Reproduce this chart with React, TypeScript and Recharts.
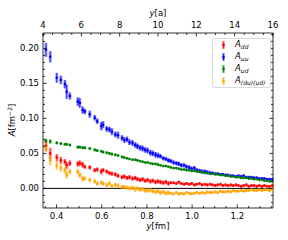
import React from 'react';
import { ScatterChart, Scatter, XAxis, YAxis, ErrorBar, ReferenceLine } from 'recharts';

// separations y in fm
const yFm = [
  0.353, 0.372, 0.401, 0.419, 0.437, 0.445, 0.459, 0.494, 0.503, 0.515,
  0.525, 0.547, 0.569, 0.58, 0.598, 0.606, 0.622, 0.634, 0.645, 0.66,
  0.672, 0.69, 0.7, 0.712, 0.723, 0.736, 0.748, 0.758, 0.77, 0.781,
  0.792, 0.803, 0.815, 0.826, 0.838, 0.849, 0.86, 0.872, 0.884, 0.895,
  0.906, 0.918, 0.93, 0.941, 0.952, 0.964, 0.975, 0.987, 0.998, 1.01,
  1.021, 1.033, 1.044, 1.056, 1.067, 1.079, 1.09, 1.102, 1.113, 1.125,
  1.136, 1.148, 1.159, 1.171, 1.182, 1.194, 1.205, 1.217, 1.228, 1.24,
  1.251, 1.263, 1.274, 1.286, 1.297, 1.309, 1.32, 1.332, 1.343, 1.355,
];

const aDD = [
  0.061, 0.05, 0.044, 0.04, 0.038, 0.033, 0.036, 0.035, 0.036, 0.034,
  0.031, 0.03, 0.026, 0.027, 0.024, 0.026, 0.024, 0.022, 0.021, 0.02,
  0.018, 0.016, 0.017, 0.015, 0.016, 0.014, 0.015, 0.013, 0.012, 0.013,
  0.011, 0.012, 0.01, 0.011, 0.009, 0.01, 0.009, 0.008, 0.009, 0.007,
  0.008, 0.008, 0.007, 0.009, 0.007, 0.006, 0.007, 0.006, 0.007, 0.005,
  0.006, 0.007, 0.005, 0.006, 0.005, 0.006, 0.005, 0.004, 0.005, 0.006,
  0.004, 0.005, 0.004, 0.005, 0.004, 0.005, 0.004, 0.003, 0.004, 0.005,
  0.003, 0.004, 0.004, 0.003, 0.004, 0.003, 0.004, 0.003, 0.003, 0.004,
];
const aDDErr = [
  0.007, 0.008, 0.005, 0.005, 0.004, 0.005, 0.004, 0.004, 0.004, 0.004,
  0.003, 0.003, 0.003, 0.003, 0.004, 0.003, 0.003, 0.003, 0.003, 0.003,
  0.003, 0.003, 0.003, 0.003, 0.003, 0.003, 0.003, 0.003, 0.003, 0.003,
  0.003, 0.003, 0.003, 0.003, 0.003, 0.003, 0.003, 0.003, 0.003, 0.003,
  0.002, 0.002, 0.002, 0.002, 0.002, 0.002, 0.002, 0.002, 0.002, 0.002,
  0.002, 0.002, 0.002, 0.002, 0.002, 0.002, 0.002, 0.002, 0.002, 0.002,
  0.002, 0.002, 0.002, 0.002, 0.002, 0.002, 0.002, 0.002, 0.002, 0.002,
  0.002, 0.002, 0.002, 0.002, 0.002, 0.002, 0.002, 0.002, 0.002, 0.002,
];

const aUU = [
  0.198, 0.188, 0.158, 0.155, 0.149, 0.138, 0.132, 0.124, 0.122, 0.112,
  0.11, 0.106, 0.101, 0.096, 0.089, 0.091, 0.085, 0.084, 0.081, 0.077,
  0.076, 0.072, 0.069, 0.07, 0.066, 0.065, 0.062, 0.06, 0.058, 0.057,
  0.055, 0.054, 0.051, 0.05, 0.048, 0.047, 0.046, 0.043, 0.042, 0.04,
  0.039, 0.037, 0.036, 0.035, 0.033, 0.033, 0.031, 0.03, 0.028, 0.029,
  0.026, 0.025, 0.024, 0.024, 0.023, 0.022, 0.022, 0.021, 0.021, 0.02,
  0.02, 0.019, 0.019, 0.018, 0.018, 0.017, 0.018, 0.017, 0.018, 0.016,
  0.016, 0.016, 0.015, 0.015, 0.014, 0.014, 0.014, 0.013, 0.013, 0.013,
];
const aUUErr = [
  0.01, 0.008, 0.007, 0.006, 0.006, 0.01, 0.005, 0.006, 0.007, 0.005,
  0.004, 0.005, 0.004, 0.004, 0.006, 0.005, 0.004, 0.004, 0.005, 0.004,
  0.005, 0.004, 0.004, 0.004, 0.004, 0.004, 0.004, 0.004, 0.004, 0.004,
  0.004, 0.004, 0.004, 0.004, 0.004, 0.004, 0.003, 0.003, 0.003, 0.003,
  0.003, 0.003, 0.003, 0.003, 0.003, 0.003, 0.003, 0.003, 0.003, 0.003,
  0.003, 0.003, 0.003, 0.003, 0.003, 0.003, 0.002, 0.002, 0.002, 0.002,
  0.002, 0.002, 0.002, 0.002, 0.002, 0.002, 0.002, 0.002, 0.002, 0.002,
  0.002, 0.002, 0.002, 0.002, 0.002, 0.002, 0.002, 0.002, 0.002, 0.002,
];

const aUD = [
  0.068, 0.067, 0.065, 0.064, 0.063, 0.063, 0.062, 0.059, 0.059, 0.058,
  0.058, 0.057, 0.055, 0.054, 0.053, 0.052, 0.051, 0.05, 0.049, 0.048,
  0.047, 0.045, 0.044, 0.043, 0.042, 0.041, 0.041, 0.04, 0.039, 0.038,
  0.037, 0.037, 0.036, 0.035, 0.035, 0.034, 0.033, 0.032, 0.032, 0.031,
  0.03, 0.029, 0.029, 0.028, 0.027, 0.027, 0.026, 0.026, 0.025, 0.025,
  0.024, 0.024, 0.023, 0.022, 0.022, 0.021, 0.021, 0.02, 0.02, 0.019,
  0.019, 0.018, 0.018, 0.017, 0.017, 0.016, 0.016, 0.015, 0.015, 0.015,
  0.014, 0.014, 0.013, 0.013, 0.012, 0.012, 0.011, 0.011, 0.01, 0.01,
];
const aUDErr = [
  0.003, 0.003, 0.002, 0.002, 0.002, 0.002, 0.002, 0.002, 0.002, 0.002,
  0.002, 0.002, 0.002, 0.002, 0.002, 0.002, 0.002, 0.002, 0.002, 0.002,
  0.0015, 0.0015, 0.0015, 0.0015, 0.0015, 0.0015, 0.0015, 0.0015, 0.0015, 0.0015,
  0.0015, 0.0015, 0.0015, 0.0015, 0.0015, 0.0015, 0.0015, 0.0015, 0.0015, 0.0015,
  0.0015, 0.0015, 0.0015, 0.0015, 0.0015, 0.0015, 0.0015, 0.0015, 0.0015, 0.0015,
  0.001, 0.001, 0.001, 0.001, 0.001, 0.001, 0.001, 0.001, 0.001, 0.001,
  0.001, 0.001, 0.001, 0.001, 0.001, 0.001, 0.001, 0.001, 0.001, 0.001,
  0.001, 0.001, 0.001, 0.001, 0.001, 0.001, 0.001, 0.001, 0.001, 0.001,
];

const aDUUD = [
  0.058, 0.04, 0.033, 0.029, 0.026, 0.019, 0.024, 0.024, 0.019, 0.014,
  0.014, 0.012, 0.01, 0.007, 0.008, 0.007, 0.005, 0.007, 0.003, 0.005,
  0.004, 0.002, 0.002, 0.001, 0.0, 0.001, -0.001, 0.0, -0.002, -0.001,
  -0.003, -0.003, -0.002, -0.004, -0.005, -0.004, -0.006, -0.005, -0.007, -0.006,
  -0.007, -0.008, -0.006, -0.008, -0.007, -0.008, -0.006, -0.007, -0.008, -0.007,
  -0.006, -0.007, -0.006, -0.007, -0.005, -0.006, -0.006, -0.005, -0.006, -0.004,
  -0.005, -0.005, -0.004, -0.005, -0.003, -0.004, -0.004, -0.003, -0.004, -0.003,
  -0.003, -0.002, -0.003, -0.003, -0.002, -0.003, -0.002, -0.002, -0.003, -0.002,
];
const aDUUDErr = [
  0.006, 0.007, 0.006, 0.005, 0.005, 0.005, 0.004, 0.004, 0.004, 0.004,
  0.003, 0.003, 0.003, 0.003, 0.003, 0.003, 0.003, 0.003, 0.003, 0.003,
  0.003, 0.003, 0.003, 0.003, 0.003, 0.003, 0.004, 0.003, 0.003, 0.003,
  0.003, 0.003, 0.003, 0.003, 0.003, 0.003, 0.003, 0.003, 0.003, 0.003,
  0.002, 0.002, 0.002, 0.002, 0.002, 0.002, 0.002, 0.002, 0.002, 0.002,
  0.002, 0.002, 0.002, 0.002, 0.002, 0.002, 0.002, 0.002, 0.002, 0.002,
  0.002, 0.002, 0.002, 0.002, 0.002, 0.002, 0.002, 0.002, 0.002, 0.002,
  0.002, 0.002, 0.002, 0.002, 0.002, 0.002, 0.002, 0.002, 0.002, 0.002,
];

const bottomTicks = [
  0.35, 0.4, 0.45, 0.5, 0.55, 0.6, 0.65, 0.7, 0.75, 0.8, 0.85, 0.9, 0.95,
  1.0, 1.05, 1.1, 1.15, 1.2, 1.25, 1.3, 1.35,
];
const bottomLabels = [0.4, 0.6, 0.8, 1.0, 1.2];
const topTicks = [
  4, 4.5, 5, 5.5, 6, 6.5, 7, 7.5, 8, 8.5, 9, 9.5, 10, 10.5, 11, 11.5, 12,
  12.5, 13, 13.5, 14, 14.5, 15, 15.5, 16,
];
const topLabels = [4, 6, 8, 10, 12, 14, 16];
const leftTicks = [
  -0.02, -0.01, 0, 0.01, 0.02, 0.03, 0.04, 0.05, 0.06, 0.07, 0.08, 0.09, 0.1,
  0.11, 0.12, 0.13, 0.14, 0.15, 0.16, 0.17, 0.18, 0.19, 0.2, 0.21, 0.22,
];
const leftLabels = [0, 0.05, 0.1, 0.15, 0.2];

const FONT = 'DejaVu Sans';

const build = (vals: number[], errs: number[]) =>
  yFm.map((x, i) => ({ x, y: vals[i], e: errs[i] }));

const series = [
  { key: 'dd', sub: 'dd', color: '#ff0000', data: build(aDD, aDDErr) },
  { key: 'uu', sub: 'uu', color: '#0000ff', data: build(aUU, aUUErr) },
  { key: 'ud', sub: 'ud', color: '#008000', data: build(aUD, aUDErr) },
  { key: 'duud', sub: '(du)(ud)', color: '#ffa500', data: build(aDUUD, aDUUDErr) },
];

// invisible anchor so the top / right axes get drawn
const axisAnchor = topLabels.map((v) => ({ x: v, y: 0 }));

const makeTick = (side: string, labels: number[], fmt: (v: number) => string) => (props: any) => {
  const { x, y, payload } = props;
  const v = payload.value;
  const major = labels.includes(v);
  const len = major ? 3.5 : 2;
  if (side === 'bottom') {
    return (
      <g>
        <line x1={x} x2={x} y1={y} y2={y - len} stroke="#000" strokeWidth={0.8} />
        {major && (
          <text x={x} y={y + 10.5} textAnchor="middle" fontSize={8.5} fontFamily={FONT} fill="#000">
            {fmt(v)}
          </text>
        )}
      </g>
    );
  }
  if (side === 'top') {
    return (
      <g>
        <line x1={x} x2={x} y1={y} y2={y + len} stroke="#000" strokeWidth={0.8} />
        {major && (
          <text x={x} y={y - 5.5} textAnchor="middle" fontSize={8.5} fontFamily={FONT} fill="#000">
            {fmt(v)}
          </text>
        )}
      </g>
    );
  }
  if (side === 'left') {
    return (
      <g>
        <line x1={x} x2={x + len} y1={y} y2={y} stroke="#000" strokeWidth={0.8} />
        {major && (
          <text x={x - 4} y={y + 3} textAnchor="end" fontSize={8.5} fontFamily={FONT} fill="#000">
            {fmt(v)}
          </text>
        )}
      </g>
    );
  }
  return <line x1={x} x2={x - len} y1={y} y2={y} stroke="#000" strokeWidth={0.8} />;
};

const Dot = (color: string) => (p: any) => <circle cx={p.cx} cy={p.cy} r={1.3} fill={color} />;

export default function App() {
  return (
    <div style={{ position: 'absolute', left: 0, top: 0, width: 288, height: 240, background: '#fff' }}>
      <ScatterChart width={288} height={240} margin={{ top: 0, right: 14, bottom: 0, left: 0 }}>
        <XAxis
          xAxisId="b"
          type="number"
          dataKey="x"
          domain={[0.34, 1.358]}
          allowDataOverflow
          ticks={bottomTicks}
          interval={0}
          height={32}
          tickSize={0}
          tickMargin={0}
          tickLine={false}
          axisLine={{ stroke: '#000', strokeWidth: 0.8 }}
          tick={makeTick('bottom', bottomLabels, (v) => v.toFixed(1))}
        />
        <XAxis
          xAxisId="t"
          orientation="top"
          type="number"
          dataKey="x"
          domain={[4, 16]}
          allowDataOverflow
          ticks={topTicks}
          interval={0}
          height={33}
          tickSize={0}
          tickMargin={0}
          tickLine={false}
          axisLine={{ stroke: '#000', strokeWidth: 0.8 }}
          tick={makeTick('top', topLabels, (v) => String(v))}
        />
        <YAxis
          yAxisId="l"
          type="number"
          dataKey="y"
          domain={[-0.028, 0.222]}
          allowDataOverflow
          ticks={leftTicks}
          interval={0}
          width={43}
          tickSize={0}
          tickMargin={0}
          tickLine={false}
          axisLine={{ stroke: '#000', strokeWidth: 0.8 }}
          tick={makeTick('left', leftLabels, (v) => v.toFixed(2))}
        />
        <YAxis
          yAxisId="r"
          orientation="right"
          type="number"
          dataKey="y"
          domain={[-0.028, 0.222]}
          allowDataOverflow
          ticks={leftTicks}
          interval={0}
          width={1}
          tickSize={0}
          tickMargin={0}
          tickLine={false}
          axisLine={{ stroke: '#000', strokeWidth: 0.8 }}
          tick={makeTick('right', leftLabels, () => '')}
        />
        <Scatter
          xAxisId="t"
          yAxisId="r"
          data={axisAnchor}
          shape={() => <g />}
          isAnimationActive={false}
        />
        <ReferenceLine xAxisId="b" yAxisId="l" y={0} stroke="#000" strokeWidth={1} />
        {series.map((s) => (
          <Scatter
            key={s.key}
            xAxisId="b"
            yAxisId="l"
            data={s.data}
            fill={s.color}
            shape={Dot(s.color)}
            isAnimationActive={false}
          >
            <ErrorBar dataKey="e" direction="y" width={0} stroke={s.color} strokeWidth={3} strokeOpacity={0.35} />
            <ErrorBar dataKey="e" direction="y" width={0} stroke={s.color} strokeWidth={0.8} />
          </Scatter>
        ))}
      </ScatterChart>
      <svg
        width={288}
        height={240}
        style={{ position: 'absolute', left: 0, top: 0, pointerEvents: 'none' }}
        fontFamily={FONT}
      >
        <text x={158} y={229} textAnchor="middle" fontSize={8.5}>
          <tspan fontStyle="italic">y</tspan>[fm]
        </text>
        <text x={158} y={15.5} textAnchor="middle" fontSize={8.5}>
          <tspan fontStyle="italic">y</tspan>[a]
        </text>
        <text transform="translate(15,120) rotate(-90)" textAnchor="middle" fontSize={8.5}>
          <tspan fontStyle="italic">A</tspan>[fm
          <tspan fontSize={6} dy={-3.5}>−2</tspan>
          <tspan dy={3.5}>]</tspan>
        </text>
        <rect x={212.5} y={38.5} width={58} height={49} rx={2} fill="#fff" fillOpacity={0.8} stroke="#d0d0d0" strokeWidth={0.8} />
        {series.map((s, i) => {
          const cy = 45 + i * 12;
          return (
            <g key={s.key}>
              <rect x={222} y={cy - 4} width={3} height={8} fill={s.color} fillOpacity={0.35} />
              <line x1={223.5} x2={223.5} y1={cy - 3.5} y2={cy + 3.5} stroke={s.color} strokeWidth={0.8} />
              <circle cx={223.5} cy={cy} r={1.3} fill={s.color} />
              <text x={235} y={cy + 2} fontSize={8.5} fontStyle="italic">
                A<tspan fontSize={6} dy={2}>{s.sub}</tspan>
              </text>
            </g>
          );
        })}
      </svg>
    </div>
  );
}
